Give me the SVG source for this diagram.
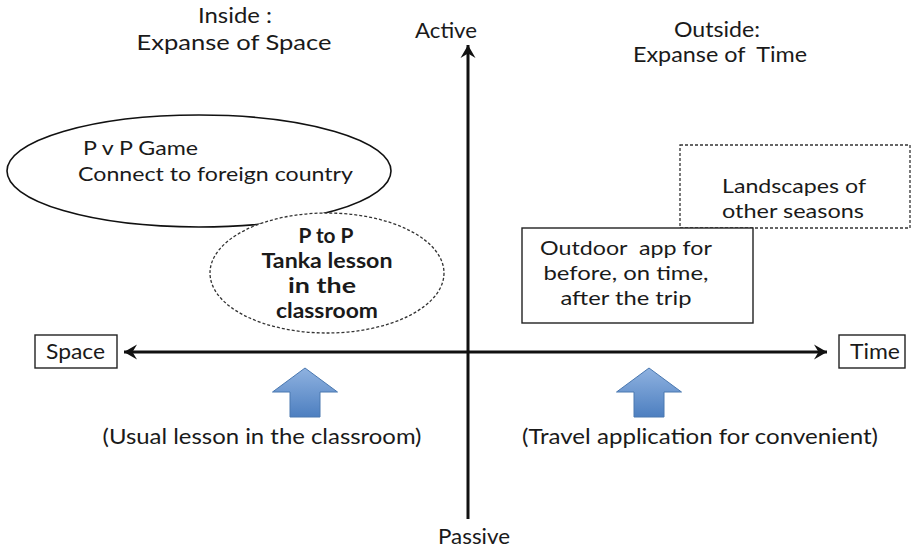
<svg xmlns="http://www.w3.org/2000/svg" width="911" height="549" viewBox="0 0 911 549">
  <defs>
    <style>
      text { font-family: Lato, "Open Sans", "Liberation Sans", sans-serif; fill: #1a1a1a; font-size: 21px; }
      .ml { font-size: 20px; }
      .mid { text-anchor: middle; }
      .bold { font-weight: bold; font-size: 20px; }
      .axis { stroke: #111; stroke-width: 3; fill: none; }
      .solid { fill: #fff; stroke: #222; stroke-width: 1.4; }
      .dashed { fill: #fff; stroke: #333; stroke-width: 1.3; stroke-dasharray: 3 2; }
      .up { fill: url(#blueGrad); stroke: #4a78b0; stroke-width: 1; }
    </style>
    <linearGradient id="blueGrad" x1="0" y1="0" x2="0" y2="1">
      <stop offset="0" stop-color="#8fb2e0"/>
      <stop offset="1" stop-color="#4d7fc0"/>
    </linearGradient>
    <marker id="head" viewBox="-14 -8 16 16" refX="0" refY="0" markerWidth="16" markerHeight="16" markerUnits="userSpaceOnUse" orient="auto">
      <path d="M0,0 L-13,-7.5 L-8.5,0 L-13,7.5 Z" fill="#111"/>
    </marker>
  </defs>

  <!-- quadrant captions -->
  <g id="caption-inside">
    <text class="mid" x="235" y="23" textLength="74" lengthAdjust="spacingAndGlyphs">Inside :</text>
    <text class="mid" x="234" y="50" textLength="195" lengthAdjust="spacingAndGlyphs">Expanse of Space</text>
  </g>
  <g id="caption-outside">
    <text class="mid" x="717" y="37" textLength="86" lengthAdjust="spacingAndGlyphs">Outside:</text>
    <text class="mid" x="720" y="62" textLength="174" lengthAdjust="spacingAndGlyphs" xml:space="preserve">Expanse of  Time</text>
  </g>

  <!-- axes -->
  <g id="connectors">
    <line class="axis" x1="468" y1="519" x2="468" y2="45" marker-end="url(#head)"/>
    <line class="axis" x1="468" y1="352" x2="124" y2="352" marker-end="url(#head)"/>
    <line class="axis" x1="468" y1="352" x2="827" y2="352" marker-end="url(#head)"/>
  </g>

  <g id="active">
    <text class="mid" x="446" y="38" textLength="62" lengthAdjust="spacingAndGlyphs">Active</text>
  </g>
  <g id="passive">
    <text class="mid" x="474" y="544" textLength="72" lengthAdjust="spacingAndGlyphs">Passive</text>
  </g>

  <g id="space">
    <rect class="solid" x="35" y="335" width="82" height="33"/>
    <text x="46" y="359" textLength="59" lengthAdjust="spacingAndGlyphs">Space</text>
  </g>
  <g id="time">
    <rect class="solid" x="839" y="335" width="66" height="33"/>
    <text x="850" y="359" textLength="50" lengthAdjust="spacingAndGlyphs">Time</text>
  </g>

  <!-- P v P game -->
  <g id="pvp-game">
    <ellipse cx="199" cy="171" rx="192" ry="56" fill="none" stroke="#111" stroke-width="1.6"/>
    <text class="ml" x="83" y="155" textLength="115" lengthAdjust="spacingAndGlyphs">P v P Game</text>
    <text class="ml" x="78" y="181" textLength="275" lengthAdjust="spacingAndGlyphs">Connect to foreign country</text>
  </g>

  <!-- P to P tanka lesson -->
  <g id="tanka-lesson">
    <ellipse class="dashed" cx="327" cy="273" rx="117" ry="60"/>
    <text class="mid bold" x="326" y="243" textLength="55" lengthAdjust="spacingAndGlyphs">P to P</text>
    <text class="mid bold" x="327" y="268" textLength="131" lengthAdjust="spacingAndGlyphs">Tanka lesson</text>
    <text class="mid bold" x="322" y="293" textLength="68" lengthAdjust="spacingAndGlyphs">in the</text>
    <text class="mid bold" x="327" y="318" textLength="102" lengthAdjust="spacingAndGlyphs">classroom</text>
  </g>

  <!-- landscapes -->
  <g id="landscapes">
    <rect class="dashed" x="680" y="145" width="230" height="83"/>
    <text class="ml" x="722" y="193" textLength="144" lengthAdjust="spacingAndGlyphs">Landscapes of</text>
    <text class="ml" x="722" y="218" textLength="142" lengthAdjust="spacingAndGlyphs">other seasons</text>
  </g>

  <!-- outdoor app -->
  <g id="outdoor-app">
    <rect class="solid" x="522" y="228" width="231" height="95"/>
    <text class="ml mid" x="626" y="255" textLength="172" lengthAdjust="spacingAndGlyphs" xml:space="preserve">Outdoor  app for</text>
    <text class="ml mid" x="626" y="280" textLength="165" lengthAdjust="spacingAndGlyphs">before, on time,</text>
    <text class="ml mid" x="626" y="305" textLength="131" lengthAdjust="spacingAndGlyphs">after the trip</text>
  </g>

  <!-- usual lesson -->
  <g id="usual-lesson">
    <path class="up" d="M305,368 L337.5,392 L320,392 L320,417 L290,417 L290,392 L272.5,392 Z"/>
    <text class="mid" x="262" y="444" textLength="319" lengthAdjust="spacingAndGlyphs">(Usual lesson in the classroom)</text>
  </g>

  <!-- travel application -->
  <g id="travel-app">
    <path class="up" d="M649,368 L681.5,392 L664,392 L664,417 L634,417 L634,392 L616.5,392 Z"/>
    <text class="mid" x="700" y="444" textLength="356" lengthAdjust="spacingAndGlyphs">(Travel application for convenient)</text>
  </g>
</svg>
